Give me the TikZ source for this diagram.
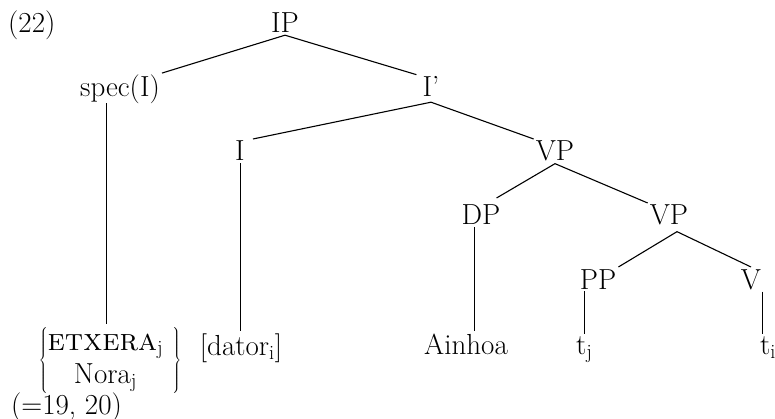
\RequirePackage{fix-cm}
\documentclass[tikz,border=0pt]{standalone}
\begin{document}
\begin{tikzpicture}[x=1pt,y=-1pt,
  lab/.style={inner sep=2pt, anchor=base, font=\fontsize{29}{33}\selectfont},
  edge/.style={line width=1.1pt},
  vedge/.style={line width=0.8pt}]
\useasboundingbox (0,0) rectangle (775,419);
% labels
\node[lab, anchor=base west] (ex) at (6,33) {(22)};
\node[lab] (IP) at (285,33) {IP};
\node[lab] (spec) at (120,97) {spec(I)};
\node[lab] (Ibar) at (431,97) {I'};
\node[lab] (I) at (240,161) {I};
\node[lab] (VP) at (555,161) {VP};
\node[lab] (DP) at (481,225) {DP};
\node[lab] (VPb) at (669,225) {VP};
\node[lab] (PP) at (598,289) {PP};
\node[lab] (V) at (751,289) {V};
% terminals
\node[lab, anchor=center, inner sep=0pt] (grp) at (110,360)
  {$\left\{\begin{tabular}{@{}c@{}}{\fontsize{31}{33}\selectfont\textsc{etxera}}\textsubscript{j}\\Nora\textsubscript{j}\end{tabular}\hspace{9pt}\right\}$};
\node[lab] (dator) at (241,355) {[dator\textsubscript{i}]};
\node[lab] (ainhoa) at (466,354) {Ainhoa};
\node[lab, anchor=base west] (tj) at (574,354) {t\textsubscript{j}};
\node[lab, anchor=base west] (ti) at (758,354) {t\textsubscript{i}};
\node[lab, anchor=base west] (ref) at (9,414) {(=19, 20)};
% edges
\draw[edge] (IP.south) -- (spec.north east);
\draw[edge] (IP.south) -- ([xshift=-4pt]Ibar.north west);
\draw[edge] ([yshift=-3pt]Ibar.south) -- ([xshift=6pt]I.north east);
\draw[edge] ([yshift=-3pt]Ibar.south) -- (VP.north west);
\draw[edge] (VP.south) -- ([xshift=-6pt,yshift=5pt]DP.north east);
\draw[edge] (VP.south) -- (VPb.north west);
\draw[edge] ([xshift=8pt,yshift=-4pt]VPb.south) -- (PP.north east);
\draw[edge] ([xshift=8pt,yshift=-4pt]VPb.south) -- (V.north);
% vertical edges
\coordinate (specBot) at ([xshift=-14pt,yshift=3pt]spec.south);
\draw[vedge] (specBot) -- ([yshift=3pt]specBot |- grp.north);
\draw[vedge] (I.south) -- (I.south |- dator.north);
\coordinate (dpBot) at ([xshift=-7pt]DP.south);
\draw[vedge] (dpBot) -- (dpBot |- ainhoa.north);
\draw[vedge] (tj.north |- PP.south) -- (tj.north);
\coordinate (tiTop) at ([xshift=4pt]ti.north west);
\draw[vedge] (tiTop |- V.south) -- (tiTop);
\end{tikzpicture}
\end{document}
